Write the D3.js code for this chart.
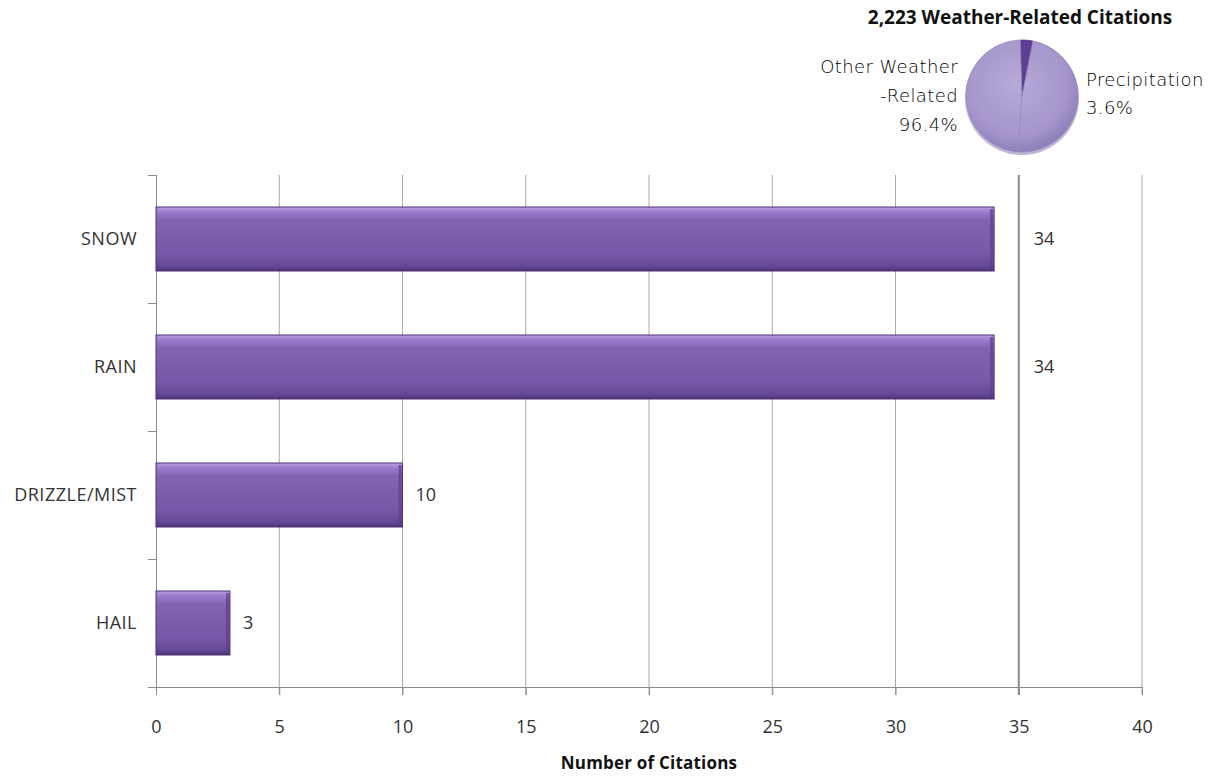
<!DOCTYPE html>
<html><head><meta charset="utf-8">
<script src="https://cdn.jsdelivr.net/npm/d3@7"></script>
<style>body{margin:0;background:#fff;}svg{display:block;font-family:"Open Sans",sans-serif;}</style>
</head><body>
<svg id="c" width="1212" height="776"></svg>
<script>
const categories = ["SNOW", "RAIN", "DRIZZLE/MIST", "HAIL"];
const citations = [34, 34, 10, 3];
const xTicks = [0, 5, 10, 15, 20, 25, 30, 35, 40];
const pieTitle = "2,223 Weather-Related Citations";
const pieLabels = ["Precipitation", "Other Weather-Related"];
const pieShares = [3.6, 96.4];
const xTitle = "Number of Citations";

const svg = d3.select("#c");
const defs = svg.append("defs");
const bg = defs.append("linearGradient").attr("id","barG").attr("x1",0).attr("y1",0).attr("x2",0).attr("y2",1);
[[0,"#b9a0e0"],[0.08,"#9a7ccb"],[0.2,"#8463b3"],[0.75,"#7656a6"],[0.92,"#664896"],[1,"#4e3478"]]
  .forEach(([o,c])=>bg.append("stop").attr("offset",o).attr("stop-color",c));
const pg = defs.append("radialGradient").attr("id","pieG").attr("cx","45%").attr("cy","40%").attr("r","65%");
[[0,"#b6aad6"],[0.7,"#a595cc"],[1,"#8878b4"]].forEach(([o,c])=>pg.append("stop").attr("offset",o).attr("stop-color",c));

const m = {left:156, right:1142, top:175, bottom:687};
const x = d3.scaleLinear().domain([0,40]).range([m.left, m.right]);
const y = d3.scaleBand().domain(categories).range([m.top, m.bottom]).paddingInner(0.5).paddingOuter(0.25);
const yb = d3.scaleBand().domain(categories).range([m.top, m.bottom]);

// gridlines
svg.append("g").selectAll("line").data(xTicks.filter(t=>t>0)).join("line")
  .attr("x1",d=>x(d)).attr("x2",d=>x(d)).attr("y1",m.top).attr("y2",m.bottom+8)
  .attr("stroke",d=>d===35?"#8a8a8a":"#a8a8a8").attr("stroke-width",d=>d===35?2:1);

// x axis
const xa = svg.append("g").attr("transform",`translate(0,${m.bottom})`)
  .call(d3.axisBottom(x).tickValues(xTicks).tickSize(8).tickPadding(25));
xa.select(".domain").attr("d",`M${m.left-8},0.5H${m.right}`).attr("stroke","#8a8a8a");
xa.selectAll(".tick line").attr("stroke","#8a8a8a");
xa.selectAll("text").attr("font-size",18).attr("fill","#333").attr("font-family","Open Sans");

// y axis
const ya = svg.append("g").attr("transform",`translate(${m.left},0)`);
ya.append("line").attr("x1",0.5).attr("x2",0.5).attr("y1",m.top).attr("y2",m.bottom).attr("stroke","#8a8a8a");
const bounds = categories.map(c=>yb(c)).concat([m.bottom]);
ya.selectAll(".tk").data(bounds).join("line").attr("class","tk")
  .attr("x1",-8).attr("x2",0).attr("y1",d=>d+0.5).attr("y2",d=>d+0.5).attr("stroke","#8a8a8a");
ya.selectAll(".lab").data(categories).join("text").attr("class","lab")
  .attr("x",-19).attr("y",d=>yb(d)+yb.bandwidth()/2).attr("dy","0.35em")
  .attr("text-anchor","end").attr("font-size",18).attr("letter-spacing",0.5).attr("fill","#333").text(d=>d);

// bars
const bars = svg.append("g");
categories.forEach((c,i)=>{
  const x0=x(0), x1=x(citations[i]), y0=y(c), h=y.bandwidth();
  bars.append("rect").attr("x",x0).attr("y",y0).attr("width",x1-x0).attr("height",h)
    .attr("fill","url(#barG)").attr("stroke","#4b3173").attr("stroke-width",1);
  bars.append("rect").attr("x",x1-4).attr("y",y0+2).attr("width",3).attr("height",h-4).attr("fill","#5b3f88").attr("opacity",0.7);
});

// value labels
const gridX = xTicks.map(t=>x(t));
svg.append("g").selectAll("text").data(categories).join("text")
  .attr("x",(c,i)=>{
    let lx = x(citations[i])+13;
    const w = 22;
    const hit = gridX.find(g=>g>lx-2 && g<lx+w);
    if (hit!==undefined) lx = hit+15;
    return lx;
  })
  .attr("y",c=>y(c)+y.bandwidth()/2).attr("dy","0.35em")
  .attr("font-size",18).attr("fill","#333").text((c,i)=>citations[i]);

// x title
svg.append("text").attr("x",(m.left+m.right)/2).attr("y",769).attr("text-anchor","middle")
  .attr("font-size",17).attr("font-weight","bold").attr("letter-spacing",0.2).attr("fill","#111").text(xTitle);

// pie
const cx=1022, cy=96, r=56;
svg.append("text").attr("x",1020).attr("y",24).attr("text-anchor","middle")
  .attr("font-size",19).attr("font-weight","bold").attr("fill","#111").text(pieTitle);
const pie = d3.pie().sort(null).startAngle(-0.03).endAngle(2*Math.PI-0.03)(pieShares);
const arc = d3.arc().innerRadius(0).outerRadius(r);
const pgG = svg.append("g").attr("transform",`translate(${cx},${cy})`);
pgG.append("circle").attr("r",r+1).attr("fill","#7d6ea6").attr("opacity",0.5).attr("cy",2);
pgG.selectAll("path").data(pie).join("path").attr("d",arc)
  .attr("fill",(d,i)=>i===0?"#5e3f95":"url(#pieG)")
  .attr("stroke",(d,i)=>i===0?"#4a2f7a":"#9585be").attr("stroke-width",0.8);
pgG.append("line").attr("x1",0).attr("y1",0).attr("x2",-4).attr("y2",r).attr("stroke","#9a8cc3").attr("stroke-width",1);

const lf = "DejaVu Sans";
const other = [ "Other Weather", "-Related", pieShares[1].toFixed(1)+"%" ];
svg.append("g").selectAll("text").data(other).join("text")
  .attr("x",958).attr("y",(d,i)=>73+i*29).attr("text-anchor","end")
  .attr("font-family",lf).attr("font-weight",200).attr("letter-spacing",0.4)
  .attr("font-size",18).attr("fill","#000").text(d=>d);
const prec = [pieLabels[0], pieShares[0].toFixed(1)+"%"];
svg.append("g").selectAll("text").data(prec).join("text")
  .attr("x",1086).attr("y",(d,i)=>86+i*28).attr("text-anchor","start")
  .attr("font-family",lf).attr("font-weight",200).attr("letter-spacing",0.4)
  .attr("font-size",18).attr("fill","#000").text(d=>d);
</script>
</body></html>
